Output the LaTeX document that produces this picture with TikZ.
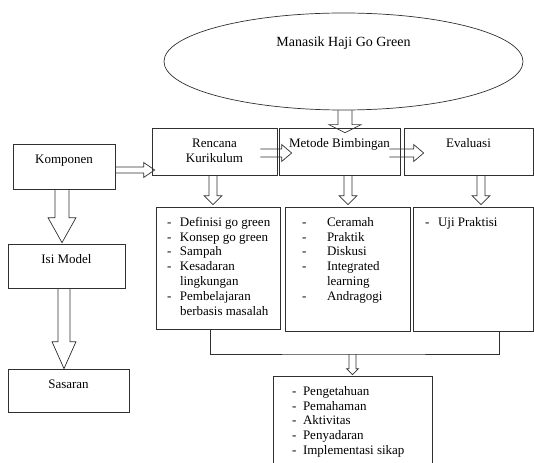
\documentclass[tikz,border=0pt]{standalone}
\usepackage{fontspec}
\setmainfont{Liberation Serif}
\usetikzlibrary{calc,shapes.geometric}
\definecolor{garisabu}{HTML}{303030}
\newcommand{\ukuran}{\fontsize{13pt}{14.8pt}\selectfont}
\newcommand{\isikotak}[3]{\parbox[c][#2][t]{#1}{\vspace{9pt}#3}}
\newlength{\lebar}
\newcommand{\daftar}[3]{\raggedright\leftskip=#1\relax\setlength{\lebar}{#2}\strut#3}
\newcommand{\butir}[1]{\makebox[\lebar][l]{-}#1}
\newcommand{\lanjut}[1]{\hspace*{\lebar}#1}
% hollow block arrow: from, to, shaft half width, head half width, head length
\newcommand{\blokpanah}[5]{%
  \path (#1) coordinate (bp-a) (#2) coordinate (bp-b);
  \path ($(bp-b)!#5!(bp-a)$) coordinate (bp-c);
  \draw[panah] ($(bp-a)!#3!90:(bp-b)$) -- ($(bp-c)!#3!90:(bp-b)$)
    -- ($(bp-c)!#4!90:(bp-b)$) -- (bp-b) -- ($(bp-c)!#4!-90:(bp-b)$)
    -- ($(bp-c)!#3!-90:(bp-b)$) -- ($(bp-a)!#3!-90:(bp-b)$);}

\begin{document}
\begin{tikzpicture}[
    x=1pt,y=-1pt,
    kotak/.style={rectangle,draw=garisabu,line width=0.7pt,
                  inner sep=0pt,font=\ukuran},
    elips/.style={ellipse,draw=garisabu,line width=0.7pt,
                  minimum width=359pt,minimum height=97pt,
                  font=\fontsize{14pt}{16pt}\selectfont,
                  text height=10pt,text depth=39pt},
    panah/.style={draw=garisabu,line width=0.7pt,line join=miter},
    hubung/.style={draw=garisabu,line width=0.7pt}
  ]
  \useasboundingbox (0,0) rectangle (534,462);
  %% Program (ellipse)
  \node[elips] (ell) at (343.5,61.5) {Manasik Haji Go Green};
  %% Left column
  \node[kotak] (komp) at (64,166.5)  {\isikotak{102pt}{45pt}{\centering\strut Komponen}};
  \node[kotak] (isim) at (66.5,266)  {\isikotak{117pt}{44pt}{\centering\strut Isi Model}};
  \node[kotak] (sas)  at (68.5,390.5) {\isikotak{121pt}{43pt}{\centering\strut Sasaran}};
  %% Top row
  \node[kotak] (rk) at (214.5,151.5) {\isikotak{125pt}{47pt}{\centering\strut Rencana\\Kurikulum}};
  \node[kotak] (mb) at (339.5,151.5) {\isikotak{121pt}{47pt}{\centering\strut Metode Bimbingan}};
  \node[kotak] (ev) at (468.5,151.5) {\isikotak{129pt}{47pt}{\centering\strut Evaluasi}};
  %% Contents
  \node[kotak] (isiA) at (218,268) {\isikotak{124pt}{122pt}{\daftar{11pt}{13pt}{%
      \butir{Definisi go green}\\\butir{Konsep go green}\\\butir{Sampah}\\
      \butir{Kesadaran}\\\lanjut{lingkungan}\\\butir{Pembelajaran}\\
      \lanjut{berbasis masalah}}}};
  \node[kotak] (isiB) at (347.5,269) {\isikotak{125pt}{124pt}{\daftar{17pt}{25pt}{%
      \butir{Ceramah}\\\butir{Praktik}\\\butir{Diskusi}\\
      \butir{Integrated}\\\lanjut{learning}\\\butir{Andragogi}}}};
  \node[kotak] (isiC) at (473,269) {\isikotak{120pt}{124pt}{\daftar{12pt}{13pt}{%
      \butir{Uji Praktisi}}}};
  %% Outcome
  \node[kotak] (hasil) at (352.5,426) {\isikotak{159pt}{100pt}{\daftar{19pt}{11pt}{%
      \butir{Pengetahuan}\\\butir{Pemahaman}\\\butir{Aktivitas}\\
      \butir{Penyadaran}\\\butir{Implementasi sikap}}}};
  %% Joining line
  \coordinate (gab) at (352.5,354);
  \draw[hubung] ($(isiA.south)+(-8,0)$) |- (gab) -| ($(isiC.south)+(26,0)$);
  %% Block arrows
  \blokpanah{$(ell.south)+(1.5,0)$}{$(mb.north)+(5.5,5)$}{7pt}{16pt}{8pt}
  \blokpanah{$(komp.east)+(0,3.5)$}{$(rk.west)+(3,18.5)$}{3pt}{7.5pt}{11pt}
  \blokpanah{$(rk.east)+(-17,1.5)$}{$(mb.west)+(13,1.5)$}{4pt}{8.5pt}{10pt}
  \blokpanah{$(mb.east)+(-11,1.5)$}{$(ev.west)+(20,1.5)$}{4pt}{8.5pt}{10pt}
  \blokpanah{$(rk.south)+(-1.5,0)$}{$(isiA.north)+(-5,-2)$}{4pt}{9pt}{9pt}
  \blokpanah{$(mb.south)+(8.5,0)$}{$(isiB.north)+(0.5,-2)$}{4pt}{9pt}{9pt}
  \blokpanah{$(ev.south)+(12.5,0)$}{$(isiC.north)+(8,-2)$}{4pt}{9pt}{9pt}
  \blokpanah{$(komp.south)+(-2,0)$}{$(isim.north)+(-4.5,-1)$}{7pt}{14pt}{25pt}
  \blokpanah{$(isim.south)+(-2.5,0)$}{$(sas.north)+(-4.5,0)$}{6pt}{12pt}{27pt}
  \blokpanah{gab}{$(hasil.north)+(0,-1)$}{3.5pt}{6pt}{6pt}
\end{tikzpicture}
\end{document}
